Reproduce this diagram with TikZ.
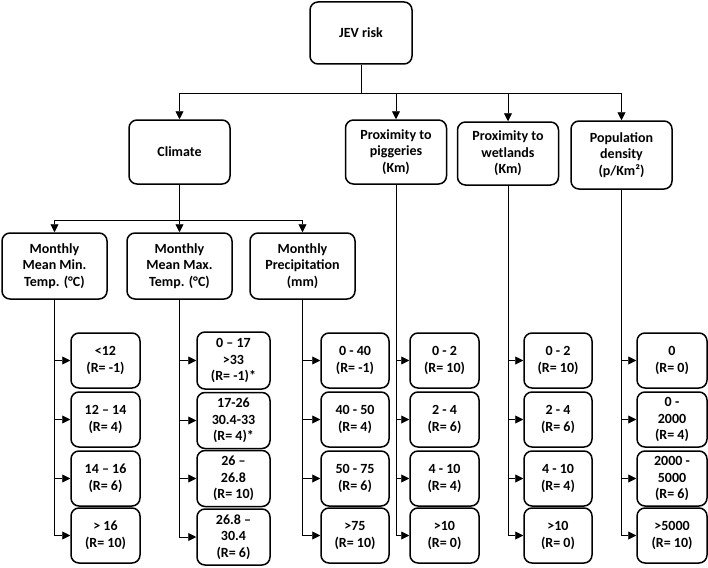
\documentclass[tikz,border=0pt]{standalone}
\usepackage{fontspec}
\setmainfont{Carlito}
\usetikzlibrary{arrows.meta}
\begin{document}
\begin{tikzpicture}[x=1pt,y=-1pt,
  box/.style={draw, line width=1.5pt, rounded corners=8pt, align=center, inner sep=0pt,
    font=\bfseries\fontsize{14}{16.6}\selectfont},
  topbox/.style={box, minimum width=101pt, minimum height=64pt},
  subbox/.style={box, minimum width=105pt, minimum height=66pt},
  valbox/.style={box, minimum width=69pt, minimum height=55pt},
  conn/.style={line width=0.9pt},
  arr/.style={conn, -{Triangle[length=8pt,width=8pt]}}]
\useasboundingbox (0,0) rectangle (708,567);
% top level
\node[box, minimum width=102pt, minimum height=62pt] (jev) at (361,33) {JEV risk};
\node[topbox] (clim) at (179.5,152) {Climate};
\node[topbox] (pig) at (396,152) {Proximity to\\piggeries\\(Km)};
\node[topbox, minimum height=63pt] (wet) at (508,153.5) {Proximity to\\wetlands\\(Km)};
\node[topbox, minimum height=68pt] (pop) at (621.5,155) {Population\\density\\(p/Km²)};
\coordinate (bus) at (361,93);
\draw[conn] (jev.south) -- (bus);
\draw[arr] (bus) -| (clim.north);
\draw[arr] (bus) -| (pig.north);
\draw[arr] (bus) -| (wet.north);
\draw[arr] (bus) -| (pop.north);
% climate level
\node[subbox] (mint) at (54.5,266) {Monthly\\Mean Min.\\Temp. (°C)};
\node[subbox] (maxt) at (179.5,266) {Monthly\\Mean Max.\\Temp. (°C)};
\node[subbox] (prec) at (302.5,266) {Monthly\\Precipitation\\(mm)};
\coordinate (cbus) at (179.5,220);
\draw[conn] (clim.south) -- (cbus);
\draw[arr] (cbus) -| (mint.north);
\draw[arr] (cbus) -| (maxt.north);
\draw[arr] (cbus) -| (prec.north);
% column 1: min temp
\node[valbox] (a1) at (105.5,360.5) {<12\\(R= -1)};
\node[valbox] (a2) at (105.5,419.5) {12 – 14\\(R= 4)};
\node[valbox] (a3) at (105.5,478.5) {14 – 16\\(R= 6)};
\node[valbox] (a4) at (105.5,535.5) {> 16\\(R= 10)};
% column 2: max temp
\node[valbox, minimum width=73pt, minimum height=57pt] (b1) at (233.5,360.5) {0 – 17\\>33\\(R= -1)*};
\node[valbox, minimum width=73pt, minimum height=56pt] (b2) at (233.5,420.5) {17-26\\30.4-33\\(R= 4)*};
\node[valbox, minimum width=73pt, minimum height=56pt] (b3) at (233.5,478.5) {26 –\\26.8\\(R= 10)};
\node[valbox, minimum width=73pt, minimum height=56pt] (b4) at (233.5,537) {26.8 –\\30.4\\(R= 6)};
% column 3: precipitation
\node[valbox, minimum width=68pt] (c1) at (355,360.5) {0 - 40\\(R= -1)};
\node[valbox, minimum width=68pt] (c2) at (355,419.5) {40 - 50\\(R= 4)};
\node[valbox, minimum width=68pt] (c3) at (355,478.5) {50 - 75\\(R= 6)};
\node[valbox, minimum width=68pt] (c4) at (355,535.5) {>75\\(R= 10)};
% column 4: piggeries
\node[valbox] (d1) at (444.5,360.5) {0 - 2\\(R= 10)};
\node[valbox] (d2) at (444.5,419.5) {2 - 4\\(R= 6)};
\node[valbox] (d3) at (444.5,478.5) {4 - 10\\(R= 4)};
\node[valbox] (d4) at (444.5,535.5) {>10\\(R= 0)};
% column 5: wetlands
\node[valbox, minimum width=68pt] (e1) at (558,360.5) {0 - 2\\(R= 10)};
\node[valbox, minimum width=68pt] (e2) at (558,419.5) {2 - 4\\(R= 6)};
\node[valbox, minimum width=68pt] (e3) at (558,478.5) {4 - 10\\(R= 4)};
\node[valbox, minimum width=68pt] (e4) at (558,535.5) {>10\\(R= 0)};
% column 6: population
\node[valbox, minimum width=70pt] (f1) at (672,360.5) {0\\(R= 0)};
\node[valbox, minimum width=70pt] (f2) at (672,419.5) {0 -\\2000\\(R= 4)};
\node[valbox, minimum width=70pt] (f3) at (672,478.5) {2000 -\\5000\\(R= 6)};
\node[valbox, minimum width=70pt] (f4) at (672,535.5) {>5000\\(R= 10)};
% connectors to values
\foreach \p/\v in {mint/a, maxt/b, prec/c, pig/d, wet/e, pop/f}{
  \foreach \r in {1,2,3,4}{
    \draw[arr] (\p.south) |- (\v\r.west);
  }
}
\end{tikzpicture}
\end{document}
